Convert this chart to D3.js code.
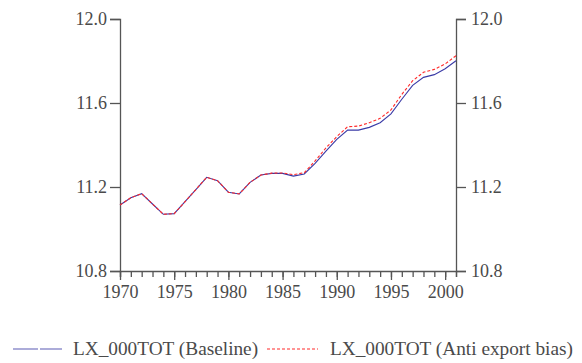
<!DOCTYPE html>
<html>
<head>
<meta charset="utf-8">
<script src="https://cdn.jsdelivr.net/npm/d3@7"></script>
<style>
  body { margin: 0; background: #fff; }
  svg { display: block; }
  text { font-family: "Liberation Serif", "Times New Roman", serif; fill: #4a4a4a; }
</style>
</head>
<body>
<div id="chart"></div>
<script>
// years and the two series
const years = d3.range(1970, 2002);
const baseline = [11.114, 11.149, 11.168, 11.119, 11.070, 11.073, 11.130, 11.188, 11.246, 11.230,
                  11.175, 11.167, 11.222, 11.257, 11.265, 11.265, 11.252, 11.262, 11.313, 11.371,
                  11.427, 11.471, 11.471, 11.484, 11.506, 11.548, 11.618, 11.684, 11.722, 11.735,
                  11.763, 11.801];
const antiExport = [11.114, 11.149, 11.168, 11.119, 11.070, 11.073, 11.130, 11.188, 11.246, 11.230,
                    11.175, 11.167, 11.222, 11.257, 11.266, 11.267, 11.259, 11.268, 11.324, 11.386,
                    11.440, 11.487, 11.490, 11.506, 11.527, 11.567, 11.641, 11.706, 11.746, 11.760,
                    11.786, 11.825];
const yTicks = [10.8, 11.2, 11.6, 12.0];
const xLabels = [1970, 1975, 1980, 1985, 1990, 1995, 2000];
const seriesNames = ["LX_000TOT (Baseline)", "LX_000TOT (Anti export bias)"];

const width = 582;
const height = 363;
const marginTop = 19;
const marginRight = 126;
const marginBottom = 92;
const marginLeft = 120;
const axisColor = "#555";

const x = d3.scaleLinear()
    .domain([1970, 2001])
    .range([marginLeft, width - marginRight]);

const y = d3.scaleLinear()
    .domain([10.8, 12.0])
    .range([height - marginBottom, marginTop]);

const svg = d3.select("#chart").append("svg")
    .attr("width", width)
    .attr("height", height);

// left axis
svg.append("g")
    .attr("transform", `translate(${marginLeft},0)`)
    .call(d3.axisLeft(y).tickValues(yTicks).tickFormat(d3.format(".1f")).tickSize(10).tickPadding(3))
    .call(g => g.selectAll("path, line").attr("stroke", axisColor).attr("stroke-width", 1.3))
    .call(g => g.selectAll("text").attr("font-size", 18).attr("font-family", null).attr("fill", null));

// right axis
svg.append("g")
    .attr("transform", `translate(${width - marginRight},0)`)
    .call(d3.axisRight(y).tickValues(yTicks).tickFormat(d3.format(".1f")).tickSize(10).tickPadding(5))
    .call(g => g.selectAll("path, line").attr("stroke", axisColor).attr("stroke-width", 1.3))
    .call(g => g.selectAll("text").attr("font-size", 18).attr("font-family", null).attr("fill", null));

// bottom axis: minor tick every year, longer ones every 5 years
const xAxis = svg.append("g")
    .attr("transform", `translate(0,${height - marginBottom})`);

xAxis.call(d3.axisBottom(x).tickValues(years).tickFormat("").tickSizeOuter(0).tickSize(6))
    .call(g => g.selectAll("path, line").attr("stroke", axisColor).attr("stroke-width", 1.3));

xAxis.append("g")
    .call(d3.axisBottom(x).tickValues(xLabels).tickFormat(d3.format("d")).tickSize(9).tickPadding(5))
    .call(g => g.select(".domain").remove())
    .call(g => g.selectAll("line").attr("stroke", axisColor).attr("stroke-width", 1.3))
    .call(g => g.selectAll("text").attr("font-size", 18).attr("font-family", null).attr("fill", null));

// lines
const line = d3.line()
    .x((d, i) => x(years[i]))
    .y(d => y(d));

svg.append("path")
    .datum(baseline)
    .attr("d", line)
    .attr("fill", "none")
    .attr("stroke", "#3a3aa6")
    .attr("stroke-width", 1.1);

svg.append("path")
    .datum(antiExport)
    .attr("d", line)
    .attr("fill", "none")
    .attr("stroke", "#ff2a2a")
    .attr("stroke-width", 1.1)
    .attr("stroke-dasharray", "3,2");

// legend
const legendY = 349;
const legend = svg.append("g");

legend.append("line")
    .attr("x1", 13).attr("x2", 62)
    .attr("y1", legendY).attr("y2", legendY)
    .attr("stroke", "#5a5ab4")
    .attr("stroke-width", 1.2)
    .attr("stroke-dasharray", "25,2");

legend.append("text")
    .attr("x", 73).attr("y", legendY + 6)
    .attr("font-size", 19.3)
    .text(seriesNames[0]);

legend.append("line")
    .attr("x1", 267).attr("x2", 318)
    .attr("y1", legendY).attr("y2", legendY)
    .attr("stroke", "#ff2a2a")
    .attr("stroke-width", 1.1)
    .attr("stroke-dasharray", "3,2");

legend.append("text")
    .attr("x", 330).attr("y", legendY + 6)
    .attr("font-size", 19.3)
    .text(seriesNames[1]);
</script>
</body>
</html>
